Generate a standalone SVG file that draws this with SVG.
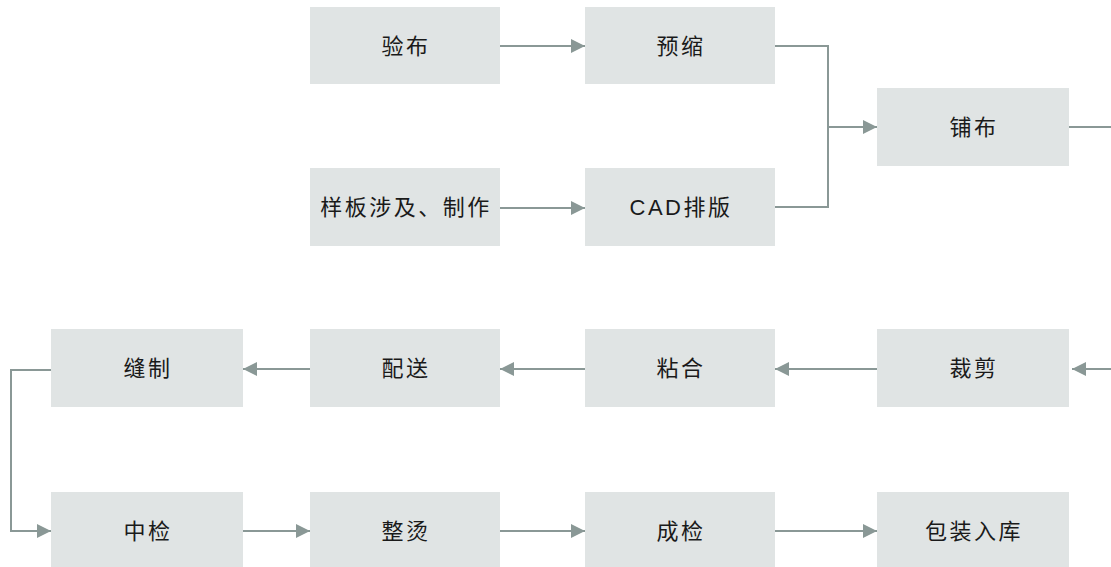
<svg xmlns="http://www.w3.org/2000/svg" width="1111" height="567" viewBox="0 0 1111 567">
<style>
.box{fill:#e0e4e4}
.t{font-family:"Liberation Sans","Noto Sans CJK SC",sans-serif;font-size:22px;fill:#1a1a1a;text-anchor:middle;letter-spacing:2.5px}
.c{fill:none;stroke:#8a9896;stroke-width:2}
</style>
<defs>
<marker id="ah" markerUnits="userSpaceOnUse" markerWidth="15" markerHeight="15" refX="14" refY="7.5" orient="auto">
<path d="M0,0.5 L14,7.5 L0,14.5 Z" fill="#8a9896"/>
</marker>
</defs>
<rect width="1111" height="567" fill="#fff"/>
<g id="n1"><rect class="box" x="310" y="7" width="190" height="77"/><text class="t" x="406" y="54">验布</text></g>
<g id="n2"><rect class="box" x="585" y="7" width="190" height="77"/><text class="t" x="681" y="54">预缩</text></g>
<g id="n3"><rect class="box" x="310" y="168" width="190" height="78"/><text class="t" x="406" y="215">样板涉及、制作</text></g>
<g id="n4"><rect class="box" x="585" y="168" width="190" height="78"/><text class="t" x="681" y="215">CAD排版</text></g>
<g id="n5"><rect class="box" x="877" y="88" width="192" height="78"/><text class="t" x="974" y="135">铺布</text></g>
<g id="n6"><rect class="box" x="877" y="329" width="192" height="78"/><text class="t" x="974" y="376">裁剪</text></g>
<g id="n7"><rect class="box" x="585" y="329" width="190" height="78"/><text class="t" x="681" y="376">粘合</text></g>
<g id="n8"><rect class="box" x="310" y="329" width="190" height="78"/><text class="t" x="406" y="376">配送</text></g>
<g id="n9"><rect class="box" x="51" y="329" width="192" height="78"/><text class="t" x="148" y="376">缝制</text></g>
<g id="n10"><rect class="box" x="51" y="492" width="192" height="78"/><text class="t" x="148" y="539">中检</text></g>
<g id="n11"><rect class="box" x="310" y="492" width="190" height="78"/><text class="t" x="406" y="539">整烫</text></g>
<g id="n12"><rect class="box" x="585" y="492" width="190" height="78"/><text class="t" x="681" y="539">成检</text></g>
<g id="n13"><rect class="box" x="877" y="492" width="192" height="78"/><text class="t" x="974" y="539">包装入库</text></g>
<g id="connectors">
<path class="c" d="M500,46 H585" marker-end="url(#ah)"/>
<path class="c" d="M500,208 H585" marker-end="url(#ah)"/>
<path class="c" d="M775,46 H828 V207 H775"/>
<path class="c" d="M828,127 H877" marker-end="url(#ah)"/>
<path class="c" d="M1069,127 H1111"/>
<path class="c" d="M1111,369 H1072" marker-end="url(#ah)"/>
<path class="c" d="M877,369 H775" marker-end="url(#ah)"/>
<path class="c" d="M585,369 H500" marker-end="url(#ah)"/>
<path class="c" d="M310,369 H243" marker-end="url(#ah)"/>
<path class="c" d="M51,370 H11 V531 H51" marker-end="url(#ah)"/>
<path class="c" d="M243,531 H310" marker-end="url(#ah)"/>
<path class="c" d="M500,531 H585" marker-end="url(#ah)"/>
<path class="c" d="M775,531 H877" marker-end="url(#ah)"/>
</g>
</svg>
